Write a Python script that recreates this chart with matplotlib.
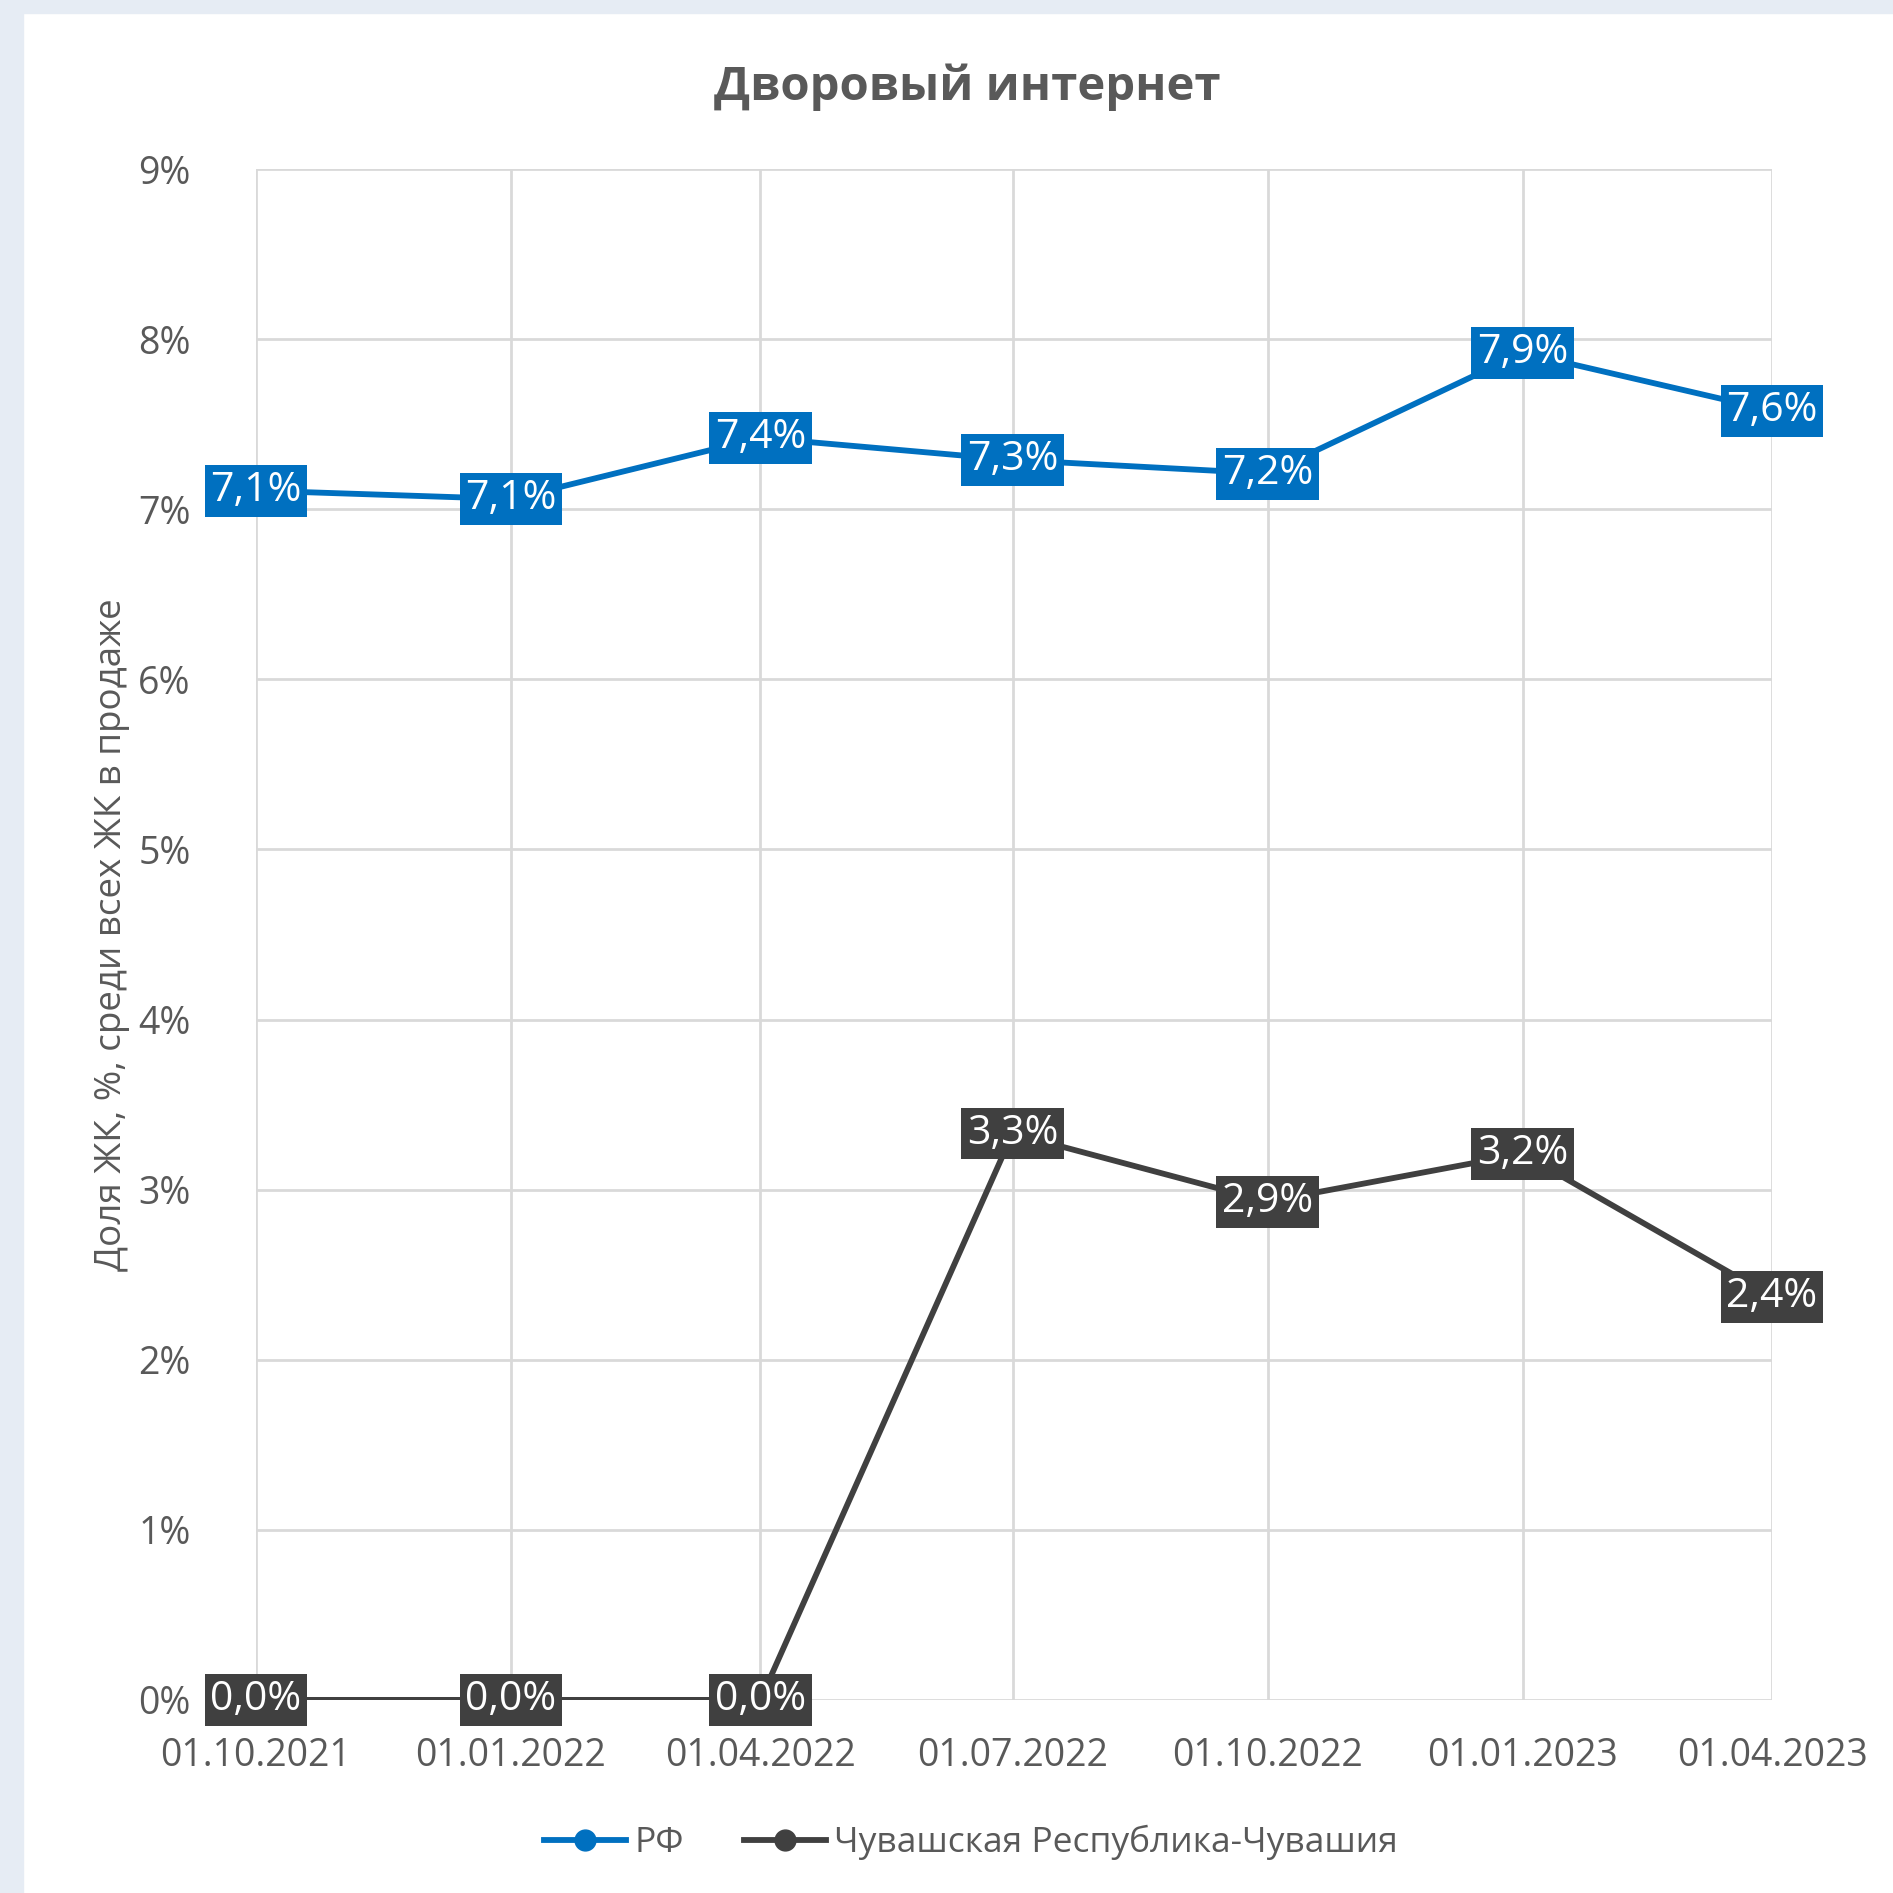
import matplotlib
matplotlib.use("Agg")
import matplotlib.pyplot as plt
import matplotlib.dates as mdates
from matplotlib.patches import Rectangle
from matplotlib.lines import Line2D
from datetime import datetime

# data
dates = ["01.10.2021", "01.01.2022", "01.04.2022", "01.07.2022",
         "01.10.2022", "01.01.2023", "01.04.2023"]
rf_values = [7.11, 7.06, 7.42, 7.29, 7.21, 7.92, 7.58]
chuv_values = [0.0, 0.0, 0.0, 3.33, 2.93, 3.21, 2.37]
series_names = ["РФ", "Чувашская Республика-Чувашия"]
y_ticks = [0, 1, 2, 3, 4, 5, 6, 7, 8, 9]

blue = "#0070C0"
dark = "#404040"
grey_text = "#595959"
grid_col = "#D9D9D9"

plt.rcParams["font.family"] = ["Open Sans", "DejaVu Sans"]

x = [datetime.strptime(d, "%d.%m.%Y") for d in dates]

fig = plt.figure(figsize=(18.93, 18.93), dpi=100)
fig.patch.set_facecolor("white")
# light frame on top and left like the source screenshot
fig.patches.append(Rectangle((0, 1 - 13 / 1893), 1, 13 / 1893, transform=fig.transFigure,
                             color="#E6ECF4", zorder=0))
fig.patches.append(Rectangle((0, 0), 23 / 1893, 1, transform=fig.transFigure,
                             color="#E6ECF4", zorder=0))

ax = fig.add_axes([0.1352, 0.1020, 0.8009, 0.8087])

ax.plot(x, rf_values, color=blue, lw=4.2, marker="o", ms=12, zorder=3)
ax.plot(x, chuv_values, color=dark, lw=4.2, marker="o", ms=12, zorder=3)

# data labels centred on the points
for xs, ys, col in [(x, rf_values, blue), (x, chuv_values, dark)]:
    for xi, yi in zip(xs, ys):
        ax.text(xi, yi, f"{yi:.1f}%".replace(".", ","), ha="center", va="center",
                fontsize=29.5, color="white", zorder=5,
                bbox=dict(boxstyle="square,pad=0.14", fc=col, ec="none"))

ax.set_xlim(x[0], x[-1])
ax.set_ylim(0, 9)
ax.set_xticks(x)
ax.xaxis.set_major_formatter(mdates.DateFormatter("%d.%m.%Y"))
ax.set_yticks(y_ticks)
ax.set_yticklabels([f"{t}%" for t in y_ticks])
ax.grid(True, color=grid_col, lw=2.0)
ax.set_axisbelow(True)
for s in ax.spines.values():
    s.set_visible(False)
ax.tick_params(length=0, labelsize=27, labelcolor=grey_text)
ax.tick_params(axis="y", pad=47)
ax.tick_params(axis="x", pad=27)

ax.set_ylabel("Доля ЖК, %, среди всех ЖК в продаже", fontsize=26.5,
              color=grey_text, labelpad=6)

fig.text(0.511, 0.954, "Дворовый интернет", ha="center", va="center",
         fontsize=34, fontweight="bold", color=grey_text)

handles = [Line2D([], [], color=blue, lw=4.2, marker="o", ms=15),
           Line2D([], [], color=dark, lw=4.2, marker="o", ms=15)]
fig.legend(handles, series_names, loc="center", bbox_to_anchor=(0.513, 0.0265),
           ncol=2, frameon=False, fontsize=25.5, labelcolor=grey_text,
           handlelength=2.3, columnspacing=1.7, handletextpad=0.25)

fig.savefig("out.png", dpi=100)
